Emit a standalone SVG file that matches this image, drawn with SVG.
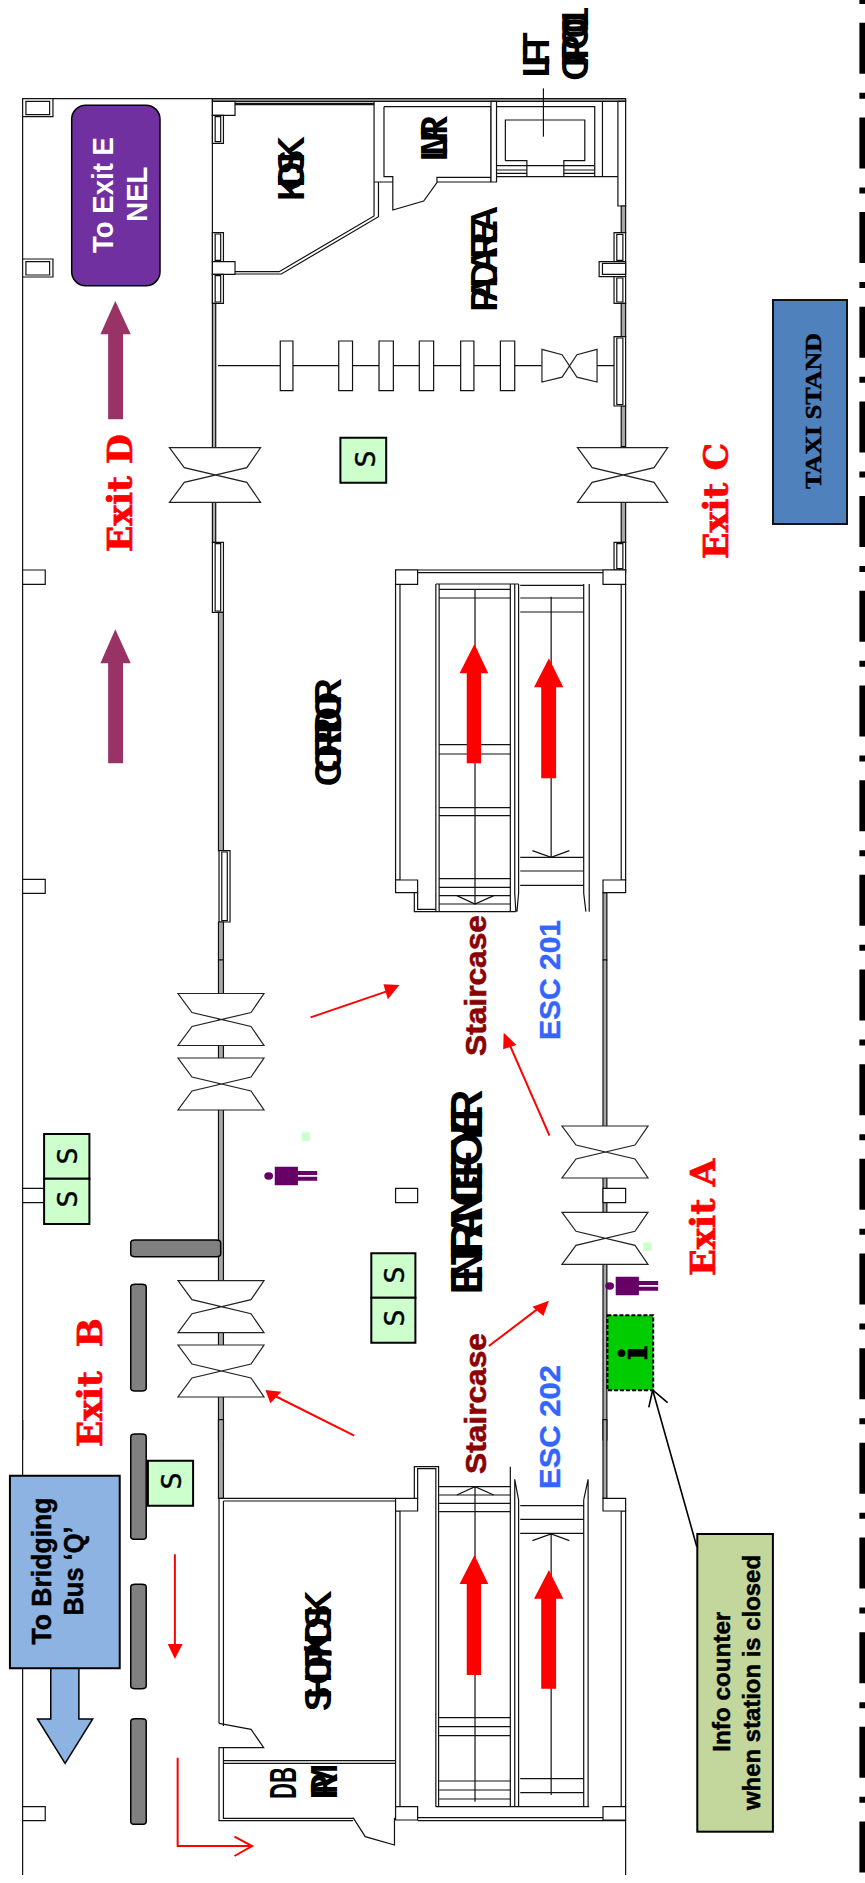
<svg xmlns="http://www.w3.org/2000/svg" xmlns:xlink="http://www.w3.org/1999/xlink" width="865" height="1883" viewBox="0 0 865 1883">
<style>
.l{fill:none;stroke:#111;stroke-width:1.2;vector-effect:non-scaling-stroke}
.w{fill:#fff;stroke:#111;stroke-width:1.2;vector-effect:non-scaling-stroke}
.g{fill:#a8a8a8;stroke:#111;stroke-width:1.2;vector-effect:non-scaling-stroke}
.bar{fill:#808080;stroke:#000;stroke-width:1.5;vector-effect:non-scaling-stroke}
.s{fill:#ccffcc;stroke:#000;stroke-width:2;vector-effect:non-scaling-stroke}
.rf{fill:#ff0000}
.mg{fill:#993366}
.rl{fill:none;stroke:#ff0000;stroke-width:2;vector-effect:non-scaling-stroke}
.p{fill:#660066}
.door{fill:#fff;stroke:#222;stroke-width:1.2;vector-effect:non-scaling-stroke}
text{font-family:"Liberation Sans",Arial,sans-serif;font-weight:bold;text-anchor:middle}
.ex{font-family:"DejaVu Serif",serif;font-size:34px;fill:#ff0000;stroke:#ff0000;stroke-width:.7}
.st{font-size:30px;fill:#8b0000;stroke:#8b0000;stroke-width:.6}
.es{font-size:30px;fill:#3366ff;stroke:#3366ff;stroke-width:.4}
.rm{font-size:37px;fill:#000}
.bk{fill:#000;stroke:#000;stroke-width:.5}
.sl{font-family:"DejaVu Sans",sans-serif;font-weight:normal;font-size:26px;fill:#000;stroke:#000;stroke-width:.4}
</style>
<defs>
<path id="door" class="door" d="M-43-26H43L30-7-29 7-43 26H43L30 7-29-7Z"/>
</defs>
<rect width="865" height="1883" fill="#fff"/>
<line x1="862.2" y1="-71.9" x2="862.2" y2="1883" stroke="#000" stroke-width="5.6" stroke-dasharray="51 19 6 18.67"/>

<g id="plan-upper" transform="scale(.5517 .33333)">
<path class="l" d="M41 296V1440M41 296H385"/>
<rect class="g" x="385" y="296" width="749" height="8"/>
<rect class="w" x="41" y="296" width="55" height="54"/><rect class="w" x="47" y="304" width="43" height="40"/>
<rect class="w" x="41" y="777" width="55" height="54"/><rect class="w" x="47" y="785" width="43" height="40"/>
<path class="l" d="M385 296V910"/>
<rect class="w" x="385" y="304" width="41" height="42"/>
<rect class="w" x="385" y="346" width="20" height="84"/><rect class="w" x="390" y="350" width="10" height="75"/>
<rect class="w" x="385" y="698" width="20" height="87"/><rect class="w" x="390" y="702" width="10" height="79"/>
<rect class="w" x="385" y="785" width="41" height="38"/>
<rect class="w" x="385" y="823" width="20" height="87"/><rect class="w" x="390" y="827" width="10" height="79"/>
<rect class="g" x="385" y="910" width="6" height="433"/>
<path class="l" d="M426 310H678M426 314H678"/>
<path class="l" d="M678 304V546M696 320V530H712V630L768 603 792 548V532H890M696 320H890V546M678 546H712M792 546H890"/>
<path class="l" d="M678 546V648L506 815H426M686 546V650L510 822H426"/>
<rect class="w" x="890" y="304" width="10" height="242"/>
<path class="l" d="M900 320H1078V530H900M916 482V360H1060V482H1022V530M916 482H955V530M955 497H1022"/>
<path class="l" d="M900 497H955M900 510H955M900 520H955M1022 497H1078M1022 510H1078M1022 520H1078"/>
<path class="l" d="M1092 304V530M1078 530H1120"/>
<rect class="w" x="1120" y="304" width="14" height="314"/>
<path class="l" d="M985 265V410"/>
<rect class="g" x="1126" y="618" width="8" height="80"/>
<rect class="w" x="1113" y="698" width="21" height="87"/><rect class="w" x="1118" y="703" width="11" height="78"/>
<rect class="w" x="1086" y="785" width="48" height="45"/><rect class="w" x="1092" y="790" width="42" height="33"/>
<rect class="w" x="1113" y="830" width="21" height="80"/><rect class="w" x="1118" y="834" width="11" height="72"/>
<rect class="g" x="1126" y="910" width="8" height="100"/>
<rect class="g" x="1126" y="1218" width="8" height="122"/>
<path class="l" d="M395 1097H982M1082 1097H1115"/>
<rect class="w" x="1113" y="1010" width="21" height="208"/><rect class="w" x="1118" y="1014" width="11" height="200"/>
<rect class="w" x="508" y="1023" width="23" height="149"/>
<rect class="w" x="614" y="1023" width="25" height="149"/>
<rect class="w" x="687" y="1023" width="26" height="149"/>
<rect class="w" x="760" y="1023" width="26" height="149"/>
<rect class="w" x="835" y="1023" width="24" height="149"/>
<rect class="w" x="907" y="1023" width="26" height="149"/>
</g>

<g id="plan-corridor" transform="translate(0 480) scale(.5517 .33333)">
<path class="l" d="M41 0V1440"/>
<rect class="w" x="41" y="270" width="41" height="43"/>
<rect class="w" x="41" y="1198" width="41" height="42"/>
<rect class="g" x="385" y="67" width="6" height="120"/>
<rect class="w" x="385" y="187" width="20" height="210"/><rect class="w" x="390" y="191" width="10" height="202"/>
<rect class="g" x="396" y="397" width="9" height="715"/>
<rect class="w" x="397" y="1112" width="20" height="214"/><rect class="w" x="402" y="1116" width="10" height="206"/>
<rect class="g" x="396" y="1326" width="9" height="114"/>
<rect class="g" x="1126" y="67" width="8" height="120"/>
<rect class="w" x="1113" y="187" width="21" height="83"/><rect class="w" x="1118" y="191" width="11" height="75"/>
<rect class="w" x="717" y="270" width="417" height="8"/>
<rect class="w" x="717" y="313" width="8" height="887"/>
<rect class="w" x="1126" y="313" width="8" height="887"/>
<rect class="w" x="717" y="270" width="40" height="43"/>
<rect class="w" x="1093" y="270" width="41" height="43"/>
<rect class="g" x="1093" y="1238" width="7" height="202"/>
<rect class="w" x="717" y="1200" width="40" height="38"/>
<rect class="w" x="1093" y="1200" width="41" height="38"/>
<path class="l" d="M751 1238V1295H935M757 1238V1288H790"/>
<path class="l" d="M790 312V1295M796 312V1295M925 312V1295M933 312V1240L935 1295M940 312V1240L937 1295M1058 312V1240L1062 1295M1068 312V1295"/>
<path class="l" d="M790 312H940M796 328H925M796 354H925M796 794H925M796 822H925M796 983H925M796 1007H925M796 1196H925M796 1222H925M796 1247H925M796 1272H925"/>
<path class="l" d="M861 328V1272M828 1247L861 1272 895 1247"/>
<path class="l" d="M943 316H1058M943 354H1058M943 396H1058M943 1132H1058M943 1173H1058M943 1216H1058"/>
<path class="l" d="M999 350V1132M965 1112L999 1132 1032 1112"/>
<polygon class="mg" points="209,448 237,550 223,550 223,850 196,850 196,550 182,550"/>
<polygon class="rf" points="860,492 885,580 872,580 872,850 846,850 846,580 833,580"/>
<polygon class="rf" points="995,535 1021,622 1008,622 1008,895 981,895 981,622 968,622"/>
</g>

<g id="plan-foyer" transform="translate(0 960) scale(.5517 .33333)">
<path class="l" d="M41 0V1440"/>
<rect class="w" x="41" y="685" width="40" height="43"/>
<rect class="g" x="396" y="0" width="9" height="1440"/>
<rect class="g" x="1093" y="0" width="7" height="1440"/>
<rect class="w" x="717" y="685" width="40" height="43"/>
<rect class="w" x="1093" y="685" width="41" height="43"/>
<rect class="bar" x="237" y="840" width="163" height="50" rx="8" ry="8"/>
<rect class="bar" x="237" y="973" width="28" height="320" rx="8" ry="8"/>
<rect fill="#ccffcc" x="547" y="517" width="15" height="26"/>
<rect fill="#ccffcc" x="1166" y="847" width="15" height="26"/>
</g>

<g id="plan-lower" transform="translate(0 1420) scale(.5517 .33333)">
<path class="l" d="M41 0V1365M1134 1200V1365"/>
<rect class="w" x="41" y="1160" width="41" height="42"/>
<rect class="bar" x="237" y="42" width="28" height="316" rx="8" ry="8"/>
<rect class="bar" x="237" y="493" width="28" height="313" rx="8" ry="8"/>
<rect class="bar" x="237" y="896" width="28" height="317" rx="8" ry="8"/>
<rect class="g" x="396" y="-1" width="9" height="236"/>
<rect class="g" x="1093" y="-1" width="7" height="236"/>
<path class="l" d="M397 235H717M405 243H717M397 235V910M405 243V918"/>
<path class="l" d="M397 910L455 928 478 983H397V1202H640M405 983V1195H640M405 1022H717M405 1030H717"/>
<path class="l" d="M640 1193L662 1250 715 1275V1193"/>
<path class="l" d="M757 1193H1093M757 1202H1134"/>
<rect class="w" x="717" y="273" width="8" height="887"/>
<rect class="w" x="1126" y="273" width="8" height="887"/>
<rect class="w" x="717" y="235" width="40" height="38"/>
<rect class="w" x="1093" y="235" width="41" height="38"/>
<rect class="w" x="717" y="1160" width="40" height="40"/>
<rect class="w" x="1093" y="1160" width="41" height="40"/>
<path class="l" d="M751 235V140H795V1160M757 235V146H790V1160"/>
<path class="l" d="M925 140V1160M933 178V1160M940 240V1160M1058 240V1160M1066 178V1160M933 178L940 240M1066 178L1058 240"/>
<path class="l" d="M790 1160H1068"/>
<path class="l" d="M796 200H925M796 225H925M796 250H925M796 275H925M796 893H925M796 920H925M796 947H925M796 1083H925M796 1110H925M796 1137H925"/>
<path class="l" d="M861 200V1145M828 225L861 200 895 225"/>
<path class="l" d="M943 257H1058M943 298H1058M943 340H1058M943 1076H1058M943 1118H1058"/>
<path class="l" d="M999 342V1125M965 362L999 342 1032 362"/>
<polygon class="rf" points="860,405 885,492 872,492 872,765 846,765 846,492 833,492"/>
<polygon class="rf" points="995,450 1021,536 1008,536 1008,806 981,806 981,536 968,536"/>
</g>

<g id="doors">
<use xlink:href="#door" href="#door" transform="translate(215 475) scale(1.06 1.05)"/>
<use xlink:href="#door" href="#door" transform="translate(622.6 475) scale(1.05 1.05)"/>
<use xlink:href="#door" href="#door" transform="translate(221 1019.5)"/>
<use xlink:href="#door" href="#door" transform="translate(221 1084)"/>
<use xlink:href="#door" href="#door" transform="translate(221 1306.7)"/>
<use xlink:href="#door" href="#door" transform="translate(221 1371)"/>
<use xlink:href="#door" href="#door" transform="translate(605 1152)"/>
<use xlink:href="#door" href="#door" transform="translate(605 1238.3)"/>
<use xlink:href="#door" href="#door" transform="translate(569.5 365.7) rotate(90) scale(.38 1.06)"/>
</g>

<g id="connectors">
<polygon class="mg" transform="scale(.5517 .33333)" points="209,903 237,1003 223,1003 223,1258 196,1258 196,1003 182,1003"/>
<g transform="translate(0 960) scale(.5517 .33333)">
<path class="rl" d="M563 172L705 92"/><polygon class="rf" points="724,75 695,73 703,118"/>
<path class="rl" d="M996 527L920 240"/><polygon class="rf" points="913,218 912,268 936,255"/>
<path class="rl" d="M886 1158L980 1040"/><polygon class="rf" points="995,1022 965,1040 985,1068"/>
<path class="rl" d="M642 1427L495 1305"/><polygon class="rf" points="481,1290 510,1295 490,1330"/>
</g>
<g transform="translate(0 1420) scale(.5517 .33333)">
<path class="rl" d="M317 403V680"/><polygon class="rf" points="304,672 331,672 317,717"/>
<path class="rl" d="M322 1013V1278H455M425 1250L457 1278 425 1308"/>
<path fill="none" stroke="#000" stroke-width="1.6" style="vector-effect:non-scaling-stroke" d="M1263 380L1183 -90M1176 -38L1183 -90 1210 -52"/>
</g>
</g>

<g id="to-exit-e">
<rect x="71.7" y="105.3" width="88.3" height="180.4" rx="14" ry="14" fill="#7030a0" stroke="#000" stroke-width="1.5"/>
<text transform="translate(112.5 195) rotate(-90)" font-size="30" fill="#fff" textLength="116" lengthAdjust="spacingAndGlyphs">To Exit E</text>
<text transform="translate(146.5 194.2) rotate(-90)" font-size="30" fill="#fff" textLength="55" lengthAdjust="spacingAndGlyphs">NEL</text>
</g>
<g id="taxi-stand">
<rect x="773" y="300" width="74" height="224" fill="#4f81bd" stroke="#111" stroke-width="2"/>
<text class="bk" transform="translate(821 411) rotate(-90)" style="font-family:'Liberation Serif',serif" font-size="24" textLength="156" lengthAdjust="spacingAndGlyphs">TAXI STAND</text>
</g>
<g id="to-bridging-bus">
<g transform="translate(0 1420) scale(.5517 .33333)">
<polygon points="92,745 92,897 68,897 118,1030 168,897 143,897 143,745" fill="#8db3e2" stroke="#000" stroke-width="1.5" style="vector-effect:non-scaling-stroke"/>
<rect x="18" y="167" width="199" height="578" fill="#8db3e2" stroke="#000" stroke-width="2" style="vector-effect:non-scaling-stroke"/>
</g>
<text class="bk" transform="translate(50.5 1571) rotate(-90)" font-size="27" textLength="147" lengthAdjust="spacingAndGlyphs">To Bridging</text>
<text class="bk" transform="translate(83 1571) rotate(-90)" font-size="27" textLength="89" lengthAdjust="spacingAndGlyphs">Bus ‘Q’</text>
</g>
<g id="info-counter">
<rect x="697.3" y="1534" width="75.6" height="297.7" fill="#c3d69b" stroke="#000" stroke-width="2"/>
<text class="bk" transform="translate(730 1681.7) rotate(-90)" font-size="24" textLength="140" lengthAdjust="spacingAndGlyphs">Info counter</text>
<text class="bk" transform="translate(760 1682.5) rotate(-90)" font-size="24" textLength="255" lengthAdjust="spacingAndGlyphs">when station is closed</text>
</g>
<g id="info-point">
<rect x="607.4" y="1315.3" width="45.8" height="75" fill="#00cc00" stroke="#000" stroke-width="2" stroke-dasharray="4 2"/>
<text class="ex" transform="translate(646.6 1353) rotate(-90)" style="font-size:38px;fill:#000;stroke:#000">i</text>
</g>
<g id="person-1" transform="translate(0 960) scale(.5517 .33333)">
<ellipse class="p" cx="487" cy="648" rx="8" ry="11"/>
<path class="p" d="M498 620H540V633H575V645H540V650H575V662H540V676H498Z"/>
</g>
<g id="person-2" transform="translate(0 1070) scale(.5517 .33333)">
<ellipse class="p" cx="1105" cy="648" rx="8" ry="11"/>
<path class="p" d="M1116 620H1158V633H1193V645H1158V650H1193V662H1158V676H1116Z"/>
</g>
<g id="sign-s1"><rect class="s" x="44.1" y="1134" width="45.3" height="44.7"/><text class="sl" transform="translate(77 1156) rotate(-90)">S</text></g>
<g id="sign-s2"><rect class="s" x="44.1" y="1178.7" width="45.3" height="45.3"/><text class="sl" transform="translate(77 1199) rotate(-90)">S</text></g>
<g id="sign-s3"><rect class="s" x="371.3" y="1253.3" width="44.1" height="44.4"/><text class="sl" transform="translate(404 1275) rotate(-90)">S</text></g>
<g id="sign-s4"><rect class="s" x="371.3" y="1297.7" width="44.1" height="45"/><text class="sl" transform="translate(404 1318) rotate(-90)">S</text></g>
<g id="sign-s5"><rect class="s" x="147.9" y="1460.7" width="45.2" height="45"/><text class="sl" transform="translate(181 1481) rotate(-90)">S</text></g>
<g id="sign-s6"><rect class="s" x="340.4" y="437.7" width="45.8" height="45"/><text class="sl" transform="translate(375 459) rotate(-90)">S</text></g>

<g id="labels">
<text class="ex" transform="translate(131.5 493) rotate(-90)" textLength="118" lengthAdjust="spacingAndGlyphs">Exit D</text>
<text class="ex" transform="translate(728 501) rotate(-90)" textLength="116" lengthAdjust="spacingAndGlyphs">Exit C</text>
<text class="ex" transform="translate(714.5 1217.5) rotate(-90)" textLength="117" lengthAdjust="spacingAndGlyphs">Exit A</text>
<text class="ex" transform="translate(102 1382.5) rotate(-90)" textLength="129" lengthAdjust="spacingAndGlyphs" xml:space="preserve" style="white-space:pre">Exit  B</text>
<text class="st" transform="translate(485.5 985.5) rotate(-90)" textLength="141" lengthAdjust="spacingAndGlyphs">Staircase</text>
<text class="st" transform="translate(485.5 1403.5) rotate(-90)" textLength="141" lengthAdjust="spacingAndGlyphs">Staircase</text>
<text class="es" transform="translate(560 980) rotate(-90)" textLength="120" lengthAdjust="spacingAndGlyphs">ESC 201</text>
<text class="es" transform="translate(560 1427) rotate(-90)" textLength="124" lengthAdjust="spacingAndGlyphs">ESC 202</text>
<text class="rm" transform="translate(549.3 55) rotate(-90)" textLength="45">LIFT</text>
<text class="rm" transform="translate(588.3 43.8) rotate(-90)" textLength="74">OFPC001</text>
<text class="rm" transform="translate(304 168.6) rotate(-90)" textLength="65">KIOSK</text>
<text class="rm" transform="translate(446.7 138.3) rotate(-90)" textLength="46">LMR</text>
<text class="rm" transform="translate(497.3 258.7) rotate(-90)" textLength="106">PADAREA</text>
<text class="rm" transform="translate(341 732.3) rotate(-90)" textLength="108">CORRIDOR</text>
<text class="rm" transform="translate(482.3 1192) rotate(-90)" style="font-size:44px" textLength="205">ENTRANCEFOYER</text>
<text class="rm" transform="translate(330.7 1650.8) rotate(-90)" textLength="121">SHOP/KIOSK</text>
<text class="rm" transform="translate(296 1783) rotate(-90)" textLength="32" lengthAdjust="spacingAndGlyphs">DB</text>
<text class="rm" transform="translate(336.5 1781.5) rotate(-90)" textLength="36">RM</text>
</g>
</svg>
